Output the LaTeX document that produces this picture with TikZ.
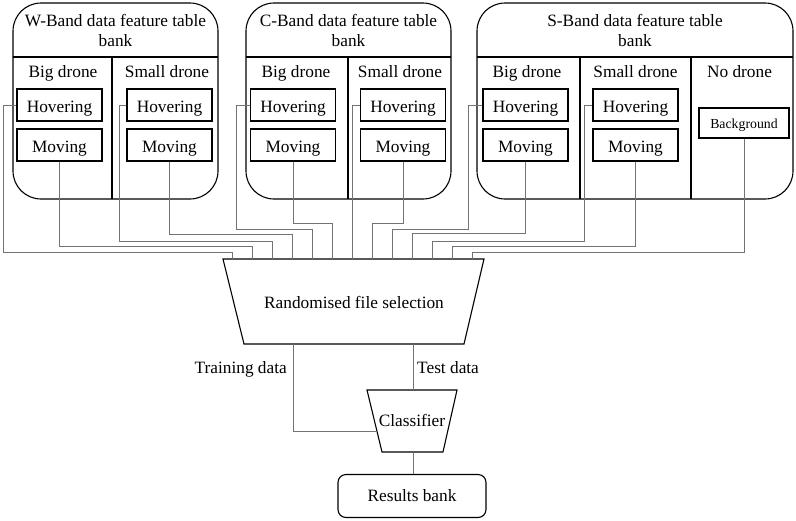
\documentclass[tikz,border=0pt]{standalone}
\usepackage{fontspec}
\setmainfont{Liberation Serif}
\begin{document}
\begin{tikzpicture}[x=1pt,y=-1pt, font=\fontsize{17.3}{20}\selectfont,
  frame/.style={draw=black, line width=1.1pt},
  bank/.style={frame, rounded corners=28pt, inner sep=0pt, minimum height=196pt},
  sub/.style={frame, minimum width=85pt, minimum height=32pt, inner sep=0pt, text height=14pt, text depth=0pt},
  conn/.style={draw=black!55, line width=0.8pt},
  lbl/.style={inner sep=0pt}]
\useasboundingbox (0,0) rectangle (796,520);
% banks
\node[bank, minimum width=205pt] (wb) at (115.5,101) {};
\node[bank, minimum width=205pt] (cb) at (348.5,101) {};
\node[bank, minimum width=316pt] (sb) at (635,101) {};
\draw[frame] (13,57) -- (218,57) (112,57) -- (112,199);
\draw[frame] (246,57) -- (451,57) (348,57) -- (348,199);
\draw[frame] (477,57) -- (793,57) (580,57) -- (580,199) (691,57) -- (691,199);
% titles
\node[lbl, align=center] (wt) at (115.5,30) {W-Band data feature table\\bank};
\node[lbl, align=center] (ct) at (348.5,30) {C-Band data feature table\\bank};
\node[lbl, align=center] (st) at (635,30) {S-Band data feature table\\bank};
% column labels
\node[lbl, anchor=base] (wbl) at (63,77.3) {Big drone};
\node[lbl, anchor=base] (wsl) at (167,77.3) {Small drone};
\node[lbl, anchor=base] (cbl) at (296,77.3) {Big drone};
\node[lbl, anchor=base] (csl) at (400,77.3) {Small drone};
\node[lbl, anchor=base] (sbl) at (527,77.3) {Big drone};
\node[lbl, anchor=base] (ssl) at (635.5,77.3) {Small drone};
\node[lbl, anchor=base] (snl) at (739.5,77.3) {No drone};
% sub boxes
\node[sub] (wbh) at (59.5,105) {Hovering};
\node[sub] (wbm) at (59.5,145) {Moving};
\node[sub] (wsh) at (169.5,105) {Hovering};
\node[sub] (wsm) at (169.5,145) {Moving};
\node[sub] (cbh) at (293,105) {Hovering};
\node[sub] (cbm) at (293,145) {Moving};
\node[sub] (csh) at (403,105) {Hovering};
\node[sub] (csm) at (403,145) {Moving};
\node[sub] (sbh) at (525.5,105) {Hovering};
\node[sub] (sbm) at (525.5,145) {Moving};
\node[sub] (ssh) at (635.5,105) {Hovering};
\node[sub] (ssm) at (635.5,145) {Moving};
\node[sub, minimum width=90pt, minimum height=30pt, text height=10pt, font=\fontsize{13.8}{16}\selectfont] (bg) at (744,123) {Background};
% randomised file selection
\coordinate (r1) at (223,259);
\coordinate (r2) at (484,259);
\coordinate (r3) at (464,344);
\coordinate (r4) at (244,344);
\draw[frame] (r1) -- (r2) -- (r3) -- (r4) -- cycle;
\node[lbl] (sel) at (354,302) {Randomised file selection};
% classifier
\coordinate (c1) at (367,390);
\coordinate (c2) at (457,390);
\coordinate (c3) at (443,452);
\coordinate (c4) at (382,452);
\draw[frame] (c1) -- (c2) -- (c3) -- (c4) -- cycle;
\node[lbl] (clf) at (412,420) {Classifier};
% results
\node[frame, rounded corners=8pt, minimum width=148pt, minimum height=43pt] (res) at (412,496) {Results bank};
% connectors to selection
\draw[conn] (wbh.west) -- (3,105) |- (232,252) -- (232,259);
\draw[conn] (wbm.south) |- (252,246) -- (252,259);
\draw[conn] (wsh.west) -- (119,105) |- (272,241) -- (272,259);
\draw[conn] (wsm.south) |- (292,234) -- (292,259);
\draw[conn] (cbh.west) -- (236,105) |- (312,229) -- (312,259);
\draw[conn] (cbm.south) |- (332,223) -- (332,259);
\draw[conn] (csh.west) -- (352,105) -- (352,259);
\draw[conn] (csm.south) |- (372,223) -- (372,259);
\draw[conn] (sbh.west) -- (468,105) |- (392,229) -- (392,259);
\draw[conn] (sbm.south) |- (412,233) -- (412,259);
\draw[conn] (ssh.west) -- (584,105) |- (432,241) -- (432,259);
\draw[conn] (ssm.south) |- (452,246) -- (452,259);
\draw[conn] (bg.south) |- (472,252) -- (472,259);
% outputs
\coordinate (trs) at (293,344);
\coordinate (tre) at (377,431);
\coordinate (tes) at (413,344);
\coordinate (tee) at (413,390);
\coordinate (cls) at (413,452);
\draw[conn] (trs) |- (tre);
\draw[conn] (tes) -- (tee);
\draw[conn] (cls) -- (cls |- res.north);
\node[lbl, anchor=base east] (trl) at (287,373) {Training data};
\node[lbl, anchor=base west] (tel) at (417,373) {Test data};
\end{tikzpicture}
\end{document}
